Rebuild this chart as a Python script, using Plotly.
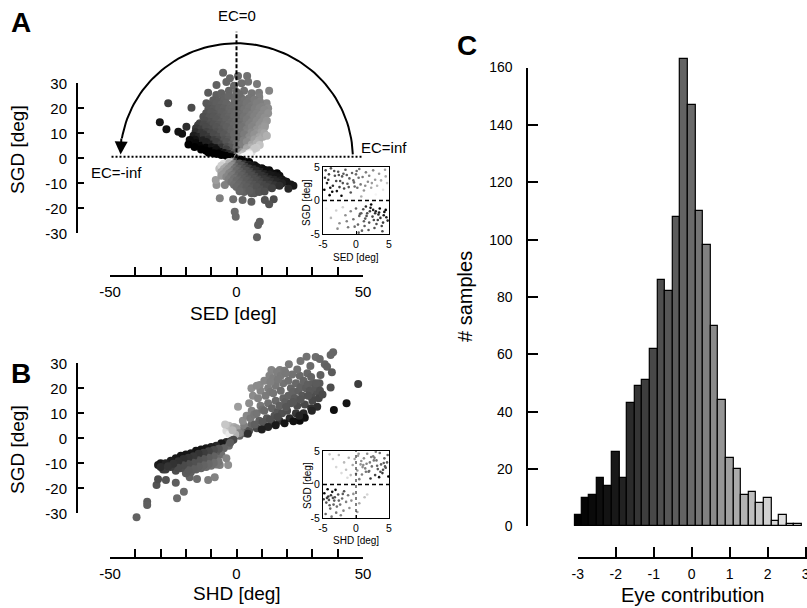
import math
import plotly.graph_objects as go

W, H = 807, 608
FONT = "Arial, Liberation Sans, sans-serif"

def fx(p):
    return p / W

def fy(p):
    return 1 - p / H

# ---------------- DATA ----------------
# Panel A main scatter: saccade eye displacement (SED) vs gaze displacement (SGD)
A_SED = [
    # sparse top
    -5.3, 0.6, 4.2, -2.6, 4.6, 8.1, -7.9, 12.9, -11.2, 8.9, -1.0, 2.0, -4.0,
    # upper fan
    -8.0, -6.0, -3.0, 0.0, 3.0, 6.0, -5.0, -1.0, 2.0, 5.0, 9.0, 11.9,
    -9.2, -7.1, -4.9, -3.2, -0.8, 1.1, 3.2, 4.8, 7.1, 9.3,
    -11.9, -10.0, -8.0, -6.0, -4.0, -2.0, 0.0, 2.0, 4.0, 6.0, 8.0, 10.0, 12.5, -17.8,
    -11.1, -9.2, -6.9, -5.1, -2.8, -1.2, 1.0, 3.1, 4.9, 7.2, 9.1, 11.0,
    -12.0, -10.0, -8.0, -6.0, -4.0, -2.0, 0.0, 2.0, 4.0, 6.0, 8.0, 10.0, 12.5,
    -13.1, -10.8, -9.1, -7.0, -4.8, -3.1, -0.9, 1.2, 2.9, 5.1, 7.0, 9.2, 11.1,
    -14.5, -12.5, -10.0, -8.0, -6.0, -4.0, -2.0, 0.0, 2.0, 4.0, 6.0, 8.0, 10.0, 12.0,
    -15.2, -13.0, -10.9, -9.1, -7.2, -4.9, -3.0, -1.1, 0.9, 3.2, 5.0, 6.8, 9.1, 11.2,
    -16.0, -14.0, -12.0, -10.0, -8.0, -6.0, -4.0, -2.0, 0.0, 2.0, 4.0, 6.0, 8.0, 10.0, 11.2, -19.8,
    -16.2, -13.9, -11.8, -10.1, -7.9, -6.1, -3.9, -2.1, 0.1, 1.9, 4.2, 5.9, 8.1, 9.8,
    -17.0, -15.0, -13.0, -11.0, -9.0, -7.0, -5.0, -3.0, -1.0, 1.0, 3.0, 5.0, 7.0, 9.0, 10.5,
    -16.4, -13.2, -11.1, -8.8, -7.1, -4.8, -3.2, -0.9, 1.1, 2.8, 5.2, 7.1, 8.9,
    -18.5, -19.0, -16.0, -14.0, -12.0, -10.0, -8.0, -6.0, -4.0, -2.0, 0.0, 2.0, 4.0, 6.0, 8.0, 9.2,
    -16.6, -12.1, -9.8, -8.2, -5.9, -3.8, -2.2, 0.1, 1.8, 4.1, 5.8, 7.9,
    -14.0, -12.0, -10.0, -8.0, -6.0, -4.0, -2.0, 0.0, 2.0, 4.0, 6.0, 7.0,
    -11.0, -9.1, -7.0, -4.9, -3.1, -1.0, 1.1, 2.9, 5.0,
    -8.0, -6.0, -4.0, -2.0, -1.0, 0.0, 1.0, 2.0, 4.0, 5.0, -3.0, -1.8, 0.6, 2.8,
    -30.3, -27.0, -27.7, 11.0, 12.0, -21.5, -23.0,
    # lower half
    -7.9, -4.6, -6.6, -1.3, 2.4, 5.9, 11.2, 14.7, 12.9, -0.7, -0.3, 9.2, 8.5, 8.1,
    19.8, 21.5, 17.1, 5.9, 22.5, 20.5, -6.8, -8.2,
    1.0, 3.0, 5.0, -1.0, -3.0, 0.4, 1.8,
    -5.1, -2.9, -1.0, 1.1, 3.0, 4.9, 7.1,
    -6.0, -4.0, -2.0, 0.0, 2.0, 4.0, 6.0, 8.0, 10.0,
    -5.0, -3.1, -0.9, 1.0, 3.1, 5.0, 7.0, 9.1, 11.0, 12.9,
    -6.0, -4.0, -2.0, 0.0, 2.0, 4.0, 6.0, 8.0, 10.0, 12.0, 14.0, 16.0,
    -5.1, -2.9, -1.1, 1.0, 2.9, 5.1, 7.0, 8.9, 11.1, 13.0, 15.1, 17.0,
    -6.0, -4.0, -2.0, 0.0, 2.0, 4.0, 6.0, 8.0, 10.0, 12.0, 14.0, 16.0, 18.0,
    -3.1, -1.0, 1.1, 3.0, 4.9, 7.1, 9.0, 11.0, 13.1, 15.0, 17.1, 19.0,
    -2.0, 0.0, 2.0, 4.0, 6.0, 8.0, 10.0, 12.0, 14.0, 16.0, 18.0,
    -1.0, 1.0, 3.1, 5.0, 7.0, 9.1, 11.0, 13.0, 15.1, 17.0,
    0.0, 2.0, 4.0, 6.0, 8.0, 10.0, 12.0, 14.0, 3.0, 7.0, 9.0, 1.2, 5.1, 11.1,
]
A_SGD = [
    34.2, 32.9, 32.9, 32.0, 30.6, 29.7, 29.3, 27.0, 26.2, 26.2, 29.0, 30.0, 30.5,
    25.3, 26.0, 27.0, 26.5, 27.0, 26.0, 24.0, 24.5, 24.0, 24.0, 24.5, 22.0,
    23.2, 22.9, 23.1, 24.9, 23.0, 25.6, 23.2, 22.8, 23.4, 22.6,
    22.0, 21.0, 22.0, 21.5, 22.0, 21.0, 22.0, 21.5, 22.0, 21.0, 22.0, 20.5, 20.0, 20.2,
    19.8, 19.6, 20.1, 19.9, 19.7, 20.2, 19.9, 19.6, 20.1, 19.8, 20.0, 19.4,
    18.0, 18.5, 17.5, 18.5, 17.5, 18.5, 18.0, 17.5, 18.5, 17.5, 18.0, 17.5, 18.0,
    16.6, 16.4, 16.7, 16.3, 16.6, 16.5, 16.8, 16.3, 16.6, 16.4, 16.7, 16.5, 16.2,
    14.0, 15.0, 14.5, 15.5, 14.5, 15.5, 14.5, 15.0, 14.5, 15.5, 14.5, 15.0, 14.5, 15.0,
    13.2, 13.4, 13.1, 13.5, 13.3, 13.2, 13.6, 13.3, 13.4, 13.1, 13.5, 13.2, 13.4, 13.3,
    12.0, 11.5, 12.5, 11.5, 12.5, 11.5, 12.5, 11.5, 12.0, 12.5, 11.5, 12.5, 11.5, 12.0, 12.6, 12.6,
    10.4, 10.2, 10.5, 10.1, 10.4, 10.3, 10.2, 10.5, 10.3, 10.1, 10.4, 10.3, 10.2, 10.4,
    9.0, 8.5, 9.5, 8.5, 9.5, 8.5, 9.5, 8.5, 9.5, 8.5, 9.5, 8.5, 9.5, 8.5, 8.6,
    7.4, 7.2, 7.5, 7.3, 7.2, 7.4, 7.3, 7.1, 7.4, 7.2, 7.3, 7.5, 7.2,
    7.3, 5.5, 6.0, 5.0, 6.5, 5.5, 6.5, 5.5, 6.5, 5.5, 6.0, 5.5, 6.5, 5.5, 6.0, 5.3,
    4.5, 4.2, 4.4, 4.1, 4.3, 4.5, 4.2, 4.3, 4.4, 4.1, 4.3, 4.2,
    3.5, 3.0, 2.8, 3.5, 2.5, 3.5, 2.5, 3.5, 2.5, 3.5, 2.5, 3.8,
    2.2, 2.0, 1.9, 2.1, 1.8, 2.0, 1.9, 2.1, 2.0,
    1.8, 1.3, 1.0, 1.2, 0.6, 1.0, 0.6, 1.2, 1.0, 1.5, 0.5, 0.4, 0.3, 0.5,
    14.4, 22.0, 11.6, 10.0, 9.0, 9.8, 10.6,
    # lower half
    -10.7, -10.7, -16.0, -16.4, -16.7, -17.4, -16.7, -16.4, -18.4, -21.4, -23.4, -25.4, -26.7, -31.6,
    -9.4, -10.5, -8.0, -14.0, -11.0, -12.2, -4.2, -8.7,
    -0.8, -1.2, -1.5, -1.0, -1.5, -0.4, -0.6,
    -2.2, -2.0, -2.3, -2.1, -2.4, -2.6, -2.8,
    -3.0, -3.5, -3.0, -3.5, -3.0, -3.5, -3.0, -3.5, -4.0,
    -4.3, -4.1, -4.4, -4.2, -4.3, -4.1, -4.4, -4.2, -4.6, -4.8,
    -5.5, -5.0, -5.5, -5.0, -5.5, -5.0, -5.5, -5.0, -5.5, -5.0, -6.0, -6.0,
    -6.3, -6.1, -6.4, -6.2, -6.3, -6.1, -6.4, -6.2, -6.3, -6.5, -6.8, -7.0,
    -7.0, -7.5, -7.0, -7.5, -7.0, -7.5, -7.0, -7.5, -7.0, -7.5, -7.0, -7.5, -8.5,
    -8.4, -8.2, -8.5, -8.3, -8.4, -8.2, -8.5, -8.3, -8.4, -8.6, -8.9, -9.2,
    -9.5, -9.0, -9.5, -9.0, -9.5, -9.0, -9.5, -9.0, -9.5, -9.5, -10.0,
    -10.6, -10.4, -10.7, -10.5, -10.6, -10.4, -10.7, -10.5, -10.8, -11.0,
    -11.5, -12.0, -11.5, -12.0, -11.5, -12.5, -11.5, -12.0, -13.5, -14.0, -13.5, -13.2, -13.0, -13.3,
]

# Panel B main scatter: head displacement (SHD) vs gaze displacement (SGD)
B_SHD = [
    38.2, 37.2, 31.3, 27.7, 25.3, 32.9, 34.9, 35.8, 20.7, 29.2, 37.7, 37.2, 48.1, 43.5,
    38.5, 31.9, 25.0, 13.8, 33.2, 32.8, 31.6, 29.6, 9.2, 5.9, 17.1, 0.6,
    2.0, 3.0, 2.5, 4.0, 3.5, 1.2, 1.8,
    5.0, 6.0, 5.5, 6.0, 5.0, 6.5, 4.5, 7.0,
    8.0, 9.0, 8.0, 9.5, 8.5, 9.5, 8.0, 7.2, 10.2,
    11.0, 12.0, 11.0, 12.5, 11.5, 12.5, 11.0, 13.0, 10.3, 13.4,
    14.0, 15.0, 14.0, 15.5, 14.5, 15.5, 14.5, 16.0, 13.2, 16.3, 13.4,
    17.0, 18.0, 17.0, 18.5, 17.5, 18.5, 17.5, 19.0, 16.2, 19.3, 16.4,
    21.0, 20.0, 21.5, 20.5, 21.5, 20.5, 22.0, 19.6, 22.4, 19.5,
    23.5, 24.0, 23.0, 24.5, 23.5, 25.0, 24.0, 22.4, 25.5,
    26.5, 27.0, 26.0, 27.5, 26.5, 28.0, 25.3, 28.2,
    29.5, 30.0, 29.0, 30.5, 29.5, 28.3, 31.2,
    32.5, 33.0, 31.5, 34.0,
    19.0, 22.5, 27.0, 12.5, 10.0, 15.5, 24.8, 29.8,
    -4.0, -3.0, -2.0, -1.0, -4.5, 0.0, 1.0, -0.5, -2.8, -1.6,
    # lower-left
    -39.5, -35.3, -35.3, -31.6, -31.0, -27.9, -24.0, -23.5, -20.8, -18.5, -15.6, -11.2,
    -8.6, -3.3, -6.6, -31.0, -30.0, -29.0,
    -2.0, -4.0, -3.0, -6.0, -5.0, -6.0, -4.0, -1.2, -2.5,
    -8.0, -8.0, -8.0, -8.0, -7.0, -7.1,
    -10.0, -10.0, -10.0, -10.0, -9.0, -9.1, -9.0,
    -12.0, -12.0, -12.0, -12.0, -11.0, -11.1, -11.0,
    -14.0, -14.0, -14.0, -14.0, -13.0, -13.1, -13.0,
    -16.0, -16.0, -16.0, -16.0, -15.0, -15.1, -15.0,
    -18.0, -18.0, -18.0, -18.0, -17.0, -17.1, -17.0,
    -20.0, -20.0, -20.0, -20.0, -19.0, -19.1, -19.0,
    -22.0, -22.0, -22.0, -21.0, -21.1,
    -24.0, -24.0, -24.0, -23.0, -23.1,
    -26.0, -26.0, -28.0, -28.0, -30.0, -25.0, -27.1,
]
B_SGD = [
    34.4, 33.3, 32.5, 32.6, 30.9, 31.7, 29.6, 28.6, 29.6, 28.9, 26.4, 20.3, 21.7, 14.0,
    11.3, 12.6, 7.0, 27.3, 25.3, 22.0, 18.6, 16.6, 21.3, 20.0, 27.3, 12.6,
    3.0, 5.0, 7.0, 9.0, 2.0, 1.0, 2.4,
    3.0, 5.5, 8.0, 11.0, 14.0, 17.0, 1.8, 9.5,
    4.0, 7.0, 10.0, 13.0, 16.0, 19.0, 21.0, 5.5, 11.5,
    5.0, 8.0, 11.0, 14.0, 17.0, 20.0, 23.0, 25.0, 6.5, 18.5,
    6.0, 9.0, 12.0, 15.0, 18.0, 21.0, 24.0, 26.5, 7.5, 10.5, 22.5,
    7.0, 10.0, 13.0, 16.0, 19.0, 22.0, 25.0, 27.0, 8.5, 14.5, 23.5,
    8.0, 11.0, 14.0, 17.0, 20.0, 23.0, 25.5, 12.5, 18.5, 26.0,
    10.0, 13.0, 16.0, 19.0, 22.0, 25.0, 27.5, 14.5, 20.5,
    10.0, 13.5, 17.0, 20.0, 23.0, 26.0, 15.5, 21.5,
    12.0, 15.0, 19.0, 22.0, 24.5, 17.0, 20.5,
    16.0, 19.0, 22.0, 17.5,
    6.0, 6.8, 8.2, 4.5, 3.5, 5.2, 9.0, 11.0,
    3.0, 5.0, 2.5, 4.5, 5.5, 4.0, 2.0, 1.5, 1.6, 3.2,
    # lower-left
    -31.6, -25.4, -26.7, -18.7, -16.4, -16.7, -17.8, -24.0, -21.4, -15.6, -16.3, -16.7,
    -15.6, -10.7, -10.7, -10.7, -10.0, -12.5,
    -1.0, -1.5, -3.0, -2.0, -4.0, -6.5, -8.0, -0.6, -1.8,
    -3.0, -5.5, -8.0, -10.5, -4.2, -9.3,
    -3.5, -6.0, -8.5, -11.0, -4.7, -7.2, -9.8,
    -4.0, -6.5, -9.0, -11.5, -5.2, -7.8, -10.3,
    -4.5, -7.0, -9.5, -12.0, -5.8, -8.3, -10.8,
    -5.0, -7.5, -10.0, -12.5, -6.2, -8.8, -11.3,
    -6.0, -8.5, -11.0, -13.5, -7.2, -9.8, -12.3,
    -6.5, -9.0, -11.5, -14.0, -7.8, -10.3, -12.8,
    -7.0, -9.5, -12.0, -8.3, -10.8,
    -8.0, -10.5, -13.0, -9.2, -11.8,
    -9.0, -11.5, -10.0, -12.5, -11.5, -10.2, -11.2,
]

# Inset A (small saccades, SED vs SGD)
IA_SED = [
    -4.6, -4.2, -3.8, -3.5, -3.2, -2.9, -2.7, -2.4, -2.1, -1.8, -1.6, -1.3, -1.0, -0.8,
    -0.6, -0.3, 0.0, 0.2, 0.5, 0.7, 1.0, 1.2, 1.5, 1.8, 2.0, 2.3, 2.6, 2.9, 3.2, 3.5,
    3.8, 4.1, 4.4, 4.7, -4.8, -4.0, -2.2, 0.8, 3.0, -3.0, -0.2, 1.4, -1.9, 2.4, 4.5,
    -4.4, -3.6, -4.1, -3.3, -2.5, -1.4, -0.4, 0.4, -2.0, -3.9, -1.1, 0.1, -4.7, -2.6,
    -4.5, -3.8, -3.0, -2.5, -2.0, -1.6, -1.2, -0.8, -0.4, 0.0, 0.3, 0.6, 0.9, 1.1, 1.4,
    1.7, 2.0, 2.2, 2.5, 2.8, 3.0, 3.3, 3.6, 3.9, 4.2, 4.5, 4.8, 1.2, 2.6, 3.4, 4.0, 0.4,
    1.9, -0.2, 3.1, 4.6, 2.3, 1.5, -2.8, -1.4, 0.8, 1.6, 2.1, 2.9, 3.7, 4.3, 0.5, 1.3,
    2.7, 3.5, 4.1,
]
IA_SGD = [
    4.5, 3.1, 4.8, 2.2, 3.7, 1.4, 4.3, 2.9, 3.6, 1.8, 4.6, 2.5, 3.3, 1.2,
    4.1, 2.7, 3.9, 1.9, 4.7, 2.4, 3.5, 1.5, 4.2, 2.8, 3.7, 1.9, 4.5, 3.1, 2.2, 4.0,
    3.0, 1.6, 4.6, 2.6, 1.6, 0.8, 0.7, 0.6, 0.9, 2.9, 2.1, 2.2, 4.0, 2.6, 3.6,
    2.6, 1.3, 3.9, 4.4, 2.0, 3.8, 3.0, 3.4, 2.6, 1.9, 2.0, 4.4, 3.4, 3.8,
    -1.2, -2.6, -1.5, -3.4, -1.0, -2.2, -4.0, -1.6, -2.8, -1.2, -3.6, -2.0, -4.5, -1.3, -2.7,
    -1.9, -3.3, -1.1, -2.4, -4.1, -1.6, -2.9, -1.2, -3.8, -2.2, -1.4, -3.0, -3.1, -1.4, -2.1, -4.6, -4.8,
    -4.4, -3.9, -3.5, -2.5, -0.6, -0.9, -4.2, -3.1, -1.9, -2.3, -1.6, -1.9, -2.6, -1.7, -2.3, -3.8,
    -2.9, -1.8, -3.3,
]

# Inset B (small saccades, SHD vs SGD)
IB_SHD = [
    -3.5, -3.0, -2.6, -2.2, -1.8, -1.5, -1.1, -0.8, -0.5, -0.2, 0.2, 0.4, 0.7, 0.9, 1.2,
    1.4, 1.7, 1.9, 2.1, 2.4, 2.6, 2.9, 3.1, 3.3, 3.6, 3.8, 4.0, 4.3, 4.5, 4.8, 4.9, 0.5,
    2.2, 3.5, 1.0, 2.7, 4.2, 3.0, 1.6, -1.3, -4.0, 0.0, 0.8, 1.5, 2.3, 3.2, 4.1, 4.7,
    0.3, 1.1, 2.0, 2.8, 3.7, 4.4,
    -4.8, -4.5, -4.2, -3.9, -3.6, -3.3, -3.0, -2.7, -2.4, -2.1, -1.8, -1.5, -1.2, -4.6,
    -4.0, -3.5, -2.9, -4.3, -1.0, -0.4, -0.7, -2.3, -3.7, 0.5, 1.3, 1.7, 0.2, -1.9, -4.9, -3.1,
    -4.4, -3.8, -3.2, -2.6, -2.0, -4.1, -3.4,
]
IB_SGD = [
    3.8, 2.6, 4.4, 1.7, 3.3, 2.2, 4.0, 1.4, 2.9, 3.8, 2.1, 4.6, 3.0, 1.5, 3.9,
    2.4, 4.6, 1.9, 3.3, 2.7, 4.2, 1.4, 3.6, 2.3, 4.7, 3.0, 1.7, 3.9, 2.5, 4.4, 1.2, 0.8,
    0.9, 1.1, 2.6, 3.6, 3.2, 4.9, 3.1, 1.0, 4.5, 1.6, 3.5, 1.9, 4.1, 2.8, 2.2, 3.3,
    4.3, 2.9, 2.0, 4.0, 1.9, 2.7,
    -1.3, -2.7, -1.8, -3.6, -1.1, -2.4, -4.2, -1.5, -3.0, -2.1, -1.0, -2.6, -1.6, -4.4,
    -3.1, -2.0, -3.3, -0.7, -3.5, -1.4, -2.4, -4.6, -4.8, -2.8, -1.9, -1.5, -4.1, -3.9, -2.2, -0.8,
    -2.0, -1.6, -1.9, -2.4, -1.4, -2.3, -3.0,
]

# Panel C histogram of eye contribution
EC_BINS = [-3.0, -2.8, -2.6, -2.4, -2.2, -2.0, -1.8, -1.6, -1.4, -1.2, -1.0, -0.8, -0.6,
           -0.4, -0.2, 0.0, 0.2, 0.4, 0.6, 0.8, 1.0, 1.2, 1.4, 1.6, 1.8, 2.0, 2.2, 2.4,
           2.6, 2.8]
EC_COUNTS = [4, 10, 11, 17, 14, 26, 17, 43, 49, 51, 62, 86, 82, 108, 163, 147, 110, 98,
             70, 44, 24, 20, 11, 12, 8, 10, 2, 4, 1, 1]

# tick labels (hyphen-minus as in the reference)
AB_X_TICKS = [-50, 0, 50]
AB_X_TEXT = ["-50", "0", "50"]
AB_Y_TICKS = [-30, -20, -10, 0, 10, 20, 30]
AB_Y_TEXT = ["-30", "-20", "-10", "0", "10", "20", "30"]
IN_TICKS = [-5, 0, 5]
IN_TEXT = ["-5", "0", "5"]
C_X_TICKS = [-3, -2, -1, 0, 1, 2, 3]
C_X_TEXT = ["-3", "-2", "-1", "0", "1", "2", "3"]
C_Y_TICKS = [0, 20, 40, 60, 80, 100, 120, 140, 160]

# ---------------- STYLE ----------------
GRAY = [[0.0, "rgb(0,0,0)"], [1 / 6, "rgb(24,24,24)"], [2 / 6, "rgb(72,72,72)"],
        [0.5, "rgb(106,106,106)"], [4 / 6, "rgb(160,160,160)"],
        [5 / 6, "rgb(208,208,208)"], [1.0, "rgb(245,245,245)"]]


def ec_from_eye(sed, sgd):
    return [e / g if g != 0 else 3.0 for e, g in zip(sed, sgd)]


def ec_from_head(shd, sgd):
    return [(g - h) / g if g != 0 else 3.0 for h, g in zip(shd, sgd)]


fig = go.Figure()

def scat(x, y, c, xa, ya, size):
    fig.add_trace(go.Scatter(
        x=x, y=y, mode="markers", xaxis=xa, yaxis=ya, cliponaxis=False,
        marker=dict(size=size, color=c, colorscale=GRAY, cmin=-3, cmax=3,
                    line=dict(width=0)),
        hoverinfo="skip", showlegend=False))

def dummy(xa, ya):
    fig.add_trace(go.Scatter(x=[0], y=[0], mode="markers", xaxis=xa, yaxis=ya,
                             marker=dict(opacity=0), hoverinfo="skip",
                             showlegend=False))

# Panel A arc (EC sweep indicator)
R = 46.0
arc_t = [math.radians(a) for a in range(2, 171, 2)]
fig.add_trace(go.Scatter(x=[R * math.cos(t) for t in arc_t], y=[R * math.sin(t) for t in arc_t],
                         mode="lines", xaxis="x", yaxis="y", line=dict(color="black", width=2),
                         hoverinfo="skip", showlegend=False, cliponaxis=False))

scat(A_SED, A_SGD, ec_from_eye(A_SED, A_SGD), "x", "y", 8)
dummy("x", "y2")
scat(IA_SED, IA_SGD, ec_from_eye(IA_SED, IA_SGD), "x2", "y3", 2.6)
scat(B_SHD, B_SGD, ec_from_head(B_SHD, B_SGD), "x3", "y4", 8)
dummy("x3", "y5")
scat(IB_SHD, IB_SGD, ec_from_head(IB_SHD, IB_SGD), "x4", "y6", 2.6)

fig.add_trace(go.Bar(
    x=EC_BINS, y=EC_COUNTS, width=0.2, xaxis="x5", yaxis="y7",
    marker=dict(color=EC_BINS, colorscale=GRAY, cmin=-3, cmax=3,
                line=dict(color="black", width=1.2)),
    hoverinfo="skip", showlegend=False))
dummy("x6", "y8")

# ---------------- LAYOUT ----------------
PYU = 2.5    # px per deg (y) in A/B
AX_L, AX_R = 110, 363
A_Y0 = 158.3
B_Y0 = 438.3
C_Y0 = 526.3
C_PYU = 2.867
C_X0 = 691.7
C_PXU = 38.0
C_XMAX = (W - C_X0) / C_PXU

tickfont = dict(family=FONT, size=15, color="black")
main_axis = dict(showline=True, linecolor="black", linewidth=2, ticks="inside",
                 tickcolor="black", tickwidth=2, showgrid=False, zeroline=False,
                 tickfont=tickfont, automargin=False)
hidden = dict(visible=False, showgrid=False, zeroline=False, automargin=False)
inset_axis = dict(showline=True, linecolor="black", linewidth=1.3, mirror=True,
                  ticks="inside", ticklen=3, tickwidth=1, tickcolor="black",
                  showgrid=False, zeroline=False, range=[-5, 5], tickvals=IN_TICKS,
                  ticktext=IN_TEXT, ticklabelstandoff=0, automargin=False,
                  tickfont=dict(family=FONT, size=10.5, color="black"))

def ydom(top_px, bot_px):
    return [fy(bot_px), fy(top_px)]

minor_x = dict(dtick=10, ticks="inside", ticklen=8, tickwidth=2, tickcolor="black")

layout = dict(
    width=W, height=H, autosize=False,
    margin=dict(l=0, r=0, t=0, b=0, pad=0, autoexpand=False),
    paper_bgcolor="white", plot_bgcolor="rgba(0,0,0,0)",
    font=dict(family=FONT, color="black"),
    # Panel A
    xaxis=dict(main_axis, range=[-50, 50], domain=[fx(AX_L), fx(AX_R)], anchor="free",
               position=fy(276), tickvals=AB_X_TICKS, ticktext=AB_X_TEXT, ticklen=8,
               minor=minor_x, ticklabelstandoff=2),
    yaxis=dict(hidden, range=[-37, 55], domain=ydom(A_Y0 - 55 * PYU, A_Y0 + 37 * PYU)),
    yaxis2=dict(main_axis, range=[-30, 30], domain=ydom(A_Y0 - 30 * PYU, A_Y0 + 30 * PYU),
                anchor="free", position=fx(77), tickvals=AB_Y_TICKS, ticktext=AB_Y_TEXT,
                ticklen=6, ticklabelstandoff=6),
    xaxis2=dict(inset_axis, domain=[fx(323), fx(389)], anchor="y3"),
    yaxis3=dict(inset_axis, domain=ydom(167, 234), anchor="x2"),
    # Panel B
    xaxis3=dict(main_axis, range=[-50, 50], domain=[fx(AX_L), fx(AX_R)], anchor="free",
                position=fy(558.3), tickvals=AB_X_TICKS, ticktext=AB_X_TEXT, ticklen=8,
                minor=minor_x, ticklabelstandoff=2),
    yaxis4=dict(hidden, range=[-36, 36], domain=ydom(B_Y0 - 36 * PYU, B_Y0 + 36 * PYU)),
    yaxis5=dict(main_axis, range=[-30, 30], domain=ydom(B_Y0 - 30 * PYU, B_Y0 + 30 * PYU),
                anchor="free", position=fx(77), tickvals=AB_Y_TICKS, ticktext=AB_Y_TEXT,
                ticklen=6, ticklabelstandoff=6),
    xaxis4=dict(inset_axis, domain=[fx(323), fx(389)], anchor="y6"),
    yaxis6=dict(inset_axis, domain=ydom(451, 518), anchor="x4"),
    # Panel C
    xaxis5=dict(hidden, range=[-3.1, C_XMAX], domain=[fx(C_X0 - 3.1 * C_PXU), 1.0]),
    yaxis7=dict(hidden, range=[0, 170], domain=ydom(C_Y0 - 170 * C_PYU, C_Y0)),
    xaxis6=dict(main_axis, range=[-3, C_XMAX], domain=[fx(C_X0 - 3 * C_PXU), 1.0],
                anchor="free", position=fy(558), tickvals=C_X_TICKS, ticktext=C_X_TEXT,
                ticklen=10, ticklabelstandoff=3, ticklabeloverflow="allow",
                tickfont=dict(family=FONT, size=14, color="black")),
    yaxis8=dict(main_axis, range=[0, 160], domain=ydom(C_Y0 - 160 * C_PYU, C_Y0),
                anchor="free", position=fx(527.3), tickvals=C_Y_TICKS, ticklen=10,
                ticklabelstandoff=11, tickfont=dict(family=FONT, size=14, color="black")),
    bargap=0,
)
fig.update_layout(**layout)

# reference lines
fig.add_shape(type="line", xref="x", yref="y", x0=0, x1=0, y0=0, y1=50.6,
              line=dict(color="black", width=2, dash="4px,2px"), layer="above")
fig.add_shape(type="line", xref="x", yref="y", x0=-49.4, x1=50, y0=0.6, y1=0.6,
              line=dict(color="black", width=2, dash="2px,2px"), layer="above")
fig.add_shape(type="line", xref="x2", yref="y3", x0=-5, x1=5, y0=0, y1=0,
              line=dict(color="black", width=1.5, dash="4px,3px"), layer="above")
fig.add_shape(type="line", xref="x4", yref="y6", x0=-5, x1=5, y0=0, y1=0,
              line=dict(color="black", width=1.5, dash="4px,3px"), layer="above")
fig.add_shape(type="line", xref="x4", yref="y6", x0=0, x1=0, y0=-5, y1=5,
              line=dict(color="black", width=1, dash="3px,3px"), layer="above")

ann = []
def txt(x, y, s, size, bold=False, angle=0, xanchor="center"):
    ann.append(dict(x=fx(x), y=fy(y), xref="paper", yref="paper", text=s, showarrow=False,
                    textangle=angle, xanchor=xanchor, yanchor="middle",
                    font=dict(family=FONT, size=size, color="black",
                              weight="bold" if bold else "normal")))

# arrowhead at end of arc
ann.append(dict(x=-45.8, y=1.5, xref="x", yref="y", ax=-45.5, ay=8.5, axref="x", ayref="y",
                text="", showarrow=True, arrowhead=2, arrowsize=1.3, arrowwidth=2,
                arrowcolor="black", standoff=0))

txt(21, 23, "A", 28, bold=True)
txt(21, 373, "B", 28, bold=True)
txt(467, 45, "C", 28, bold=True)
txt(237, 16, "EC=0", 15)
txt(359, 147, "EC=inf", 15, xanchor="left")
txt(116, 172, "EC=-inf", 15)
txt(17, 150, "SGD [deg]", 19, angle=-90)
txt(233, 313, "SED [deg]", 19)
txt(17, 450, "SGD [deg]", 19, angle=-90)
txt(237, 593, "SHD [deg]", 19)
txt(307, 203, "SGD [deg]", 10, angle=-90)
txt(356, 257, "SED [deg]", 10)
txt(307, 486, "SGD [deg]", 10, angle=-90)
txt(356, 540, "SHD [deg]", 10)
txt(465, 297, "# samples", 20, angle=-90)
txt(692, 595, "Eye contribution", 20)

fig.update_layout(annotations=ann)
fig.write_html("out.html")
